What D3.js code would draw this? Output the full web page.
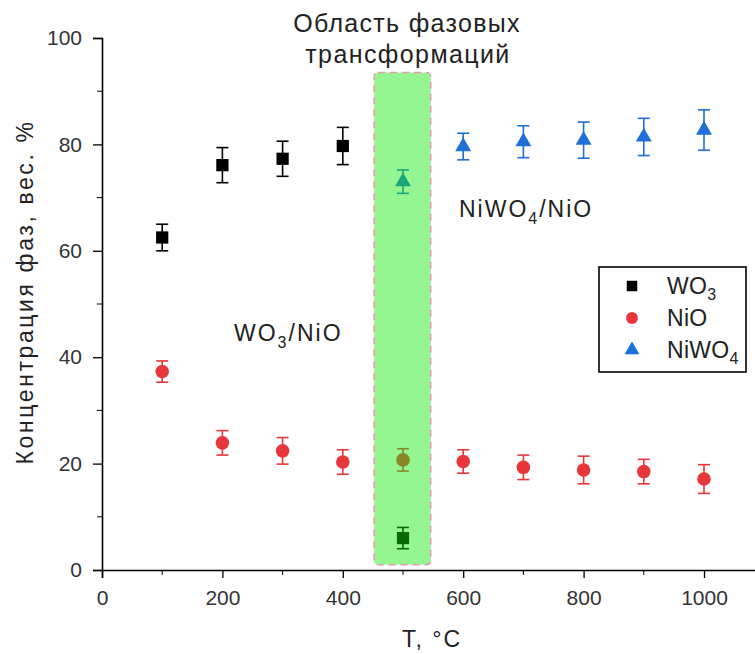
<!DOCTYPE html>
<html>
<head>
<meta charset="utf-8">
<script src="https://cdn.jsdelivr.net/npm/d3@7"></script>
<style>
  body { margin: 0; background: #fff; }
  svg { font-family: "Liberation Sans", Arial, sans-serif; }
</style>
</head>
<body>
<svg id="chart" width="755" height="654"></svg>
<script>
const temps = [100, 200, 300, 400, 500, 600, 700, 800, 900, 1000];

const wo3 = [62.5, 76.1, 77.3, 79.7, 6.0];
const wo3Err = [2.5, 3.3, 3.3, 3.5, 2.0];
const wo3T = [100, 200, 300, 400, 500];

const nio = [37.3, 23.9, 22.4, 20.3, 20.7, 20.4, 19.3, 18.8, 18.5, 17.1];
const nioErr = [2.0, 2.3, 2.5, 2.3, 2.1, 2.2, 2.3, 2.6, 2.3, 2.7];

const niwo4 = [73.0, 79.6, 80.5, 80.8, 81.4, 82.7];
const niwo4Err = [2.2, 2.5, 3.0, 3.4, 3.5, 3.8];
const niwo4T = [500, 600, 700, 800, 900, 1000];

const xTicks = [0, 200, 400, 600, 800, 1000];
const yTicks = [0, 20, 40, 60, 80, 100];
const zone = [452, 546, 1, 93.5];   // x0, x1, y0, y1 of the transformation region

const svg = d3.select("#chart");
const margin = { left: 102, top: 38 };

const x = d3.scaleLinear().domain([0, 1100]).range([margin.left, margin.left + 1100 * 0.602]);
const y = d3.scaleLinear().domain([0, 100]).range([570, 38]);

// axes
const xAxis = svg.append("g").attr("transform", `translate(0,${y(0)})`);
xAxis.call(d3.axisBottom(x).tickValues(xTicks).tickSize(8).tickPadding(12).tickFormat(d3.format("d")));
xAxis.append("g").selectAll("line").data(d3.range(100, 1001, 200)).join("line")
  .attr("x1", d => x(d)).attr("x2", d => x(d)).attr("y1", 0).attr("y2", 5).attr("stroke", "#000");

const yAxis = svg.append("g").attr("transform", `translate(${x(0)},0)`);
yAxis.call(d3.axisLeft(y).tickValues(yTicks).tickSize(9).tickPadding(11));
yAxis.append("g").selectAll("line").data(d3.range(10, 100, 20)).join("line")
  .attr("x1", 0).attr("x2", -5).attr("y1", d => y(d)).attr("y2", d => y(d)).attr("stroke", "#000");

svg.selectAll(".domain").attr("stroke", "#000").attr("stroke-width", 1.6);
svg.selectAll(".tick line").attr("stroke", "#000").attr("stroke-width", 1.3);
svg.selectAll(".tick text").attr("font-size", 21).attr("fill", "#333")
  .attr("font-family", "Liberation Sans, Arial, sans-serif");

// axis titles
svg.append("text").attr("x", 432).attr("y", 647).attr("text-anchor", "middle")
  .attr("font-size", 23).attr("letter-spacing", 2).attr("fill", "#222").text("T, °C");
svg.append("text").attr("transform", "translate(33,292) rotate(-90)").attr("text-anchor", "middle")
  .attr("font-size", 23).attr("letter-spacing", 2.6).attr("fill", "#222").text("Концентрация фаз, вес. %");

// region title
svg.append("text").attr("x", 407).attr("y", 32).attr("text-anchor", "middle")
  .attr("font-size", 25).attr("letter-spacing", 1.3).attr("fill", "#222").text("Область фазовых");
svg.append("text").attr("x", 408).attr("y", 63).attr("text-anchor", "middle")
  .attr("font-size", 25).attr("letter-spacing", 1.4).attr("fill", "#222").text("трансформаций");

// annotations
const a1 = svg.append("text").attr("x", 234).attr("y", 341).attr("font-size", 23)
  .attr("letter-spacing", 2).attr("fill", "#222");
a1.append("tspan").text("WO");
a1.append("tspan").attr("font-size", 16).attr("dy", 7).text("3");
a1.append("tspan").attr("dy", -7).text("/NiO");

const a2 = svg.append("text").attr("x", 459).attr("y", 217).attr("font-size", 23)
  .attr("letter-spacing", 2).attr("fill", "#222");
a2.append("tspan").text("NiWO");
a2.append("tspan").attr("font-size", 16).attr("dy", 7).text("4");
a2.append("tspan").attr("dy", -7).text("/NiO");

// error bars + markers
function errBars(g, xs, ys, es, color) {
  const eb = g.append("g").attr("stroke", color).attr("stroke-width", 1.6);
  xs.forEach((t, i) => {
    const cx = x(t), hi = y(ys[i] + es[i]), lo = y(ys[i] - es[i]);
    eb.append("line").attr("x1", cx).attr("x2", cx).attr("y1", hi).attr("y2", lo);
    eb.append("line").attr("x1", cx - 6).attr("x2", cx + 6).attr("y1", hi).attr("y2", hi);
    eb.append("line").attr("x1", cx - 6).attr("x2", cx + 6).attr("y1", lo).attr("y2", lo);
  });
}

const plot = svg.append("g");
const red = "#e8373a", blue = "#1f6fd8";

errBars(plot, wo3T, wo3, wo3Err, "#000");
plot.append("g").selectAll("path").data(wo3).join("path")
  .attr("d", d3.symbol(d3.symbolSquare, 150))
  .attr("transform", (d, i) => `translate(${x(wo3T[i])},${y(d)})`).attr("fill", "#000");

errBars(plot, temps, nio, nioErr, red);
plot.append("g").selectAll("path").data(nio).join("path")
  .attr("d", d3.symbol(d3.symbolCircle, 145))
  .attr("transform", (d, i) => `translate(${x(temps[i])},${y(d)})`).attr("fill", red);

errBars(plot, niwo4T, niwo4, niwo4Err, blue);
plot.append("g").selectAll("path").data(niwo4).join("path")
  .attr("d", d3.symbol(d3.symbolTriangle, 110))
  .attr("transform", (d, i) => `translate(${x(niwo4T[i])},${y(d)})`).attr("fill", blue);

// translucent green region on top of the markers
svg.append("rect")
  .attr("x", x(zone[0])).attr("y", y(zone[3]))
  .attr("width", x(zone[1]) - x(zone[0])).attr("height", y(zone[2]) - y(zone[3]))
  .attr("rx", 4)
  .attr("fill", "rgb(20,235,10)").attr("fill-opacity", 0.45)
  .attr("stroke", "#e49aa8").attr("stroke-width", 1.5).attr("stroke-dasharray", "7,5");

// legend
const lg = svg.append("g");
lg.append("rect").attr("x", 599).attr("y", 267).attr("width", 147).attr("height", 105)
  .attr("fill", "#fff").attr("stroke", "#000").attr("stroke-width", 1.6);
const items = [
  { name: "WO", sub: "3", sym: d3.symbolSquare, size: 110, color: "#000" },
  { name: "NiO", sub: "", sym: d3.symbolCircle, size: 110, color: red },
  { name: "NiWO", sub: "4", sym: d3.symbolTriangle, size: 95, color: blue }
];
items.forEach((it, i) => {
  const cy = 286 + i * 32;
  lg.append("path").attr("d", d3.symbol(it.sym, it.size)).attr("transform", `translate(632,${cy})`).attr("fill", it.color);
  const t = lg.append("text").attr("x", 667).attr("y", cy + 8).attr("font-size", 23)
    .attr("letter-spacing", 0.3).attr("fill", "#222");
  t.append("tspan").text(it.name);
  if (it.sub) t.append("tspan").attr("font-size", 16).attr("dy", 6).text(it.sub);
});
</script>
</body>
</html>
